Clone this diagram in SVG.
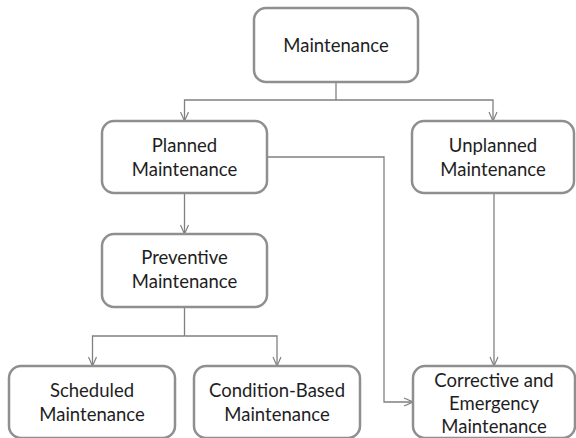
<svg xmlns="http://www.w3.org/2000/svg" width="576" height="438" viewBox="0 0 576 438">
  <style>
    .box { fill: #ffffff; stroke: #8f8f8f; stroke-width: 2.5; }
    .lbl { font-family: Lato, "Open Sans", "Liberation Sans", sans-serif; font-size: 18.5px; fill: #1e1e1e; text-anchor: middle; }
    .wire { fill: none; stroke: #808080; stroke-width: 1.3; }
    .arrow { marker-end: url(#vhead); }
  </style>
  <defs>
    <marker id="vhead" viewBox="0 0 10 10" refX="10" refY="5" markerWidth="10" markerHeight="10" markerUnits="userSpaceOnUse" orient="auto">
      <path d="M1,1 L10,5 L1,9" fill="none" stroke="#808080" stroke-width="1.2"/>
    </marker>
  </defs>

  <rect width="576" height="438" fill="#ffffff"/>

  <g id="connectors">
    <polyline class="wire" points="336,82 336,100"/>
    <polyline class="wire arrow" points="336,100 184.5,100 184.5,121"/>
    <polyline class="wire arrow" points="336,100 493,100 493,121"/>
    <line class="wire arrow" x1="184.5" y1="193" x2="184.5" y2="234"/>
    <polyline class="wire" points="184.5,307 184.5,336"/>
    <polyline class="wire arrow" points="184.5,336 92.5,336 92.5,366"/>
    <polyline class="wire arrow" points="184.5,336 277,336 277,366"/>
    <line class="wire arrow" x1="494" y1="193" x2="494" y2="366"/>
    <polyline class="wire arrow" points="267,157 384,157 384,402 413,402"/>
  </g>

  <g id="maintenance">
    <rect class="box" x="254" y="8" width="164" height="74" rx="12"/>
    <text class="lbl" x="336" y="52">Maintenance</text>
  </g>

  <g id="planned">
    <rect class="box" x="102" y="121" width="165" height="72" rx="12"/>
    <text class="lbl" x="184.5" y="152">Planned</text>
    <text class="lbl" x="184.5" y="175.5">Maintenance</text>
  </g>

  <g id="unplanned">
    <rect class="box" x="412" y="121" width="162" height="72" rx="12"/>
    <text class="lbl" x="493" y="152">Unplanned</text>
    <text class="lbl" x="493" y="175.5">Maintenance</text>
  </g>

  <g id="preventive">
    <rect class="box" x="102" y="234" width="165" height="73" rx="12"/>
    <text class="lbl" x="184.5" y="264">Preventive</text>
    <text class="lbl" x="184.5" y="288">Maintenance</text>
  </g>

  <g id="scheduled">
    <rect class="box" x="9" y="366" width="166" height="72" rx="12"/>
    <text class="lbl" x="92" y="397">Scheduled</text>
    <text class="lbl" x="92" y="420.5">Maintenance</text>
  </g>

  <g id="condition-based">
    <rect class="box" x="194" y="366" width="166" height="72" rx="12"/>
    <text class="lbl" x="277" y="397">Condition-Based</text>
    <text class="lbl" x="277" y="420.5">Maintenance</text>
  </g>

  <g id="corrective">
    <rect class="box" x="413" y="366" width="162" height="72" rx="12"/>
    <text class="lbl" x="494" y="387">Corrective and</text>
    <text class="lbl" x="494" y="410">Emergency</text>
    <text class="lbl" x="494" y="432.5">Maintenance</text>
  </g>
</svg>
